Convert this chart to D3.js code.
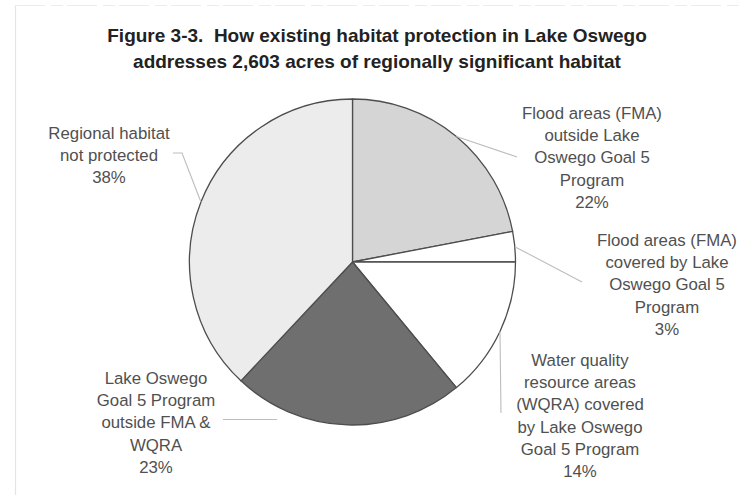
<!DOCTYPE html>
<html>
<head>
<meta charset="utf-8">
<script src="https://cdn.jsdelivr.net/npm/d3@7/dist/d3.min.js"></script>
<style>
  html, body { margin: 0; padding: 0; background: #fff; }
  svg { display: block; }
  .title { white-space: pre; }
</style>
</head>
<body>
<svg id="chart" width="743" height="498"></svg>
<script>
// Habitat categories, clockwise from 12 o'clock
const categories = [
  "Flood areas (FMA) outside Lake Oswego Goal 5 Program",
  "Flood areas (FMA) covered by Lake Oswego Goal 5 Program",
  "Water quality resource areas (WQRA) covered by Lake Oswego Goal 5 Program",
  "Lake Oswego Goal 5 Program outside FMA & WQRA",
  "Regional habitat not protected"
];
// Share of the 2,603 acres, in percent
const shares = [22, 3, 14, 23, 38];
// Label text, line by line
const labelLines = [
  ["Flood areas (FMA)", "outside Lake", "Oswego Goal 5", "Program"],
  ["Flood areas (FMA)", "covered by Lake", "Oswego Goal 5", "Program"],
  ["Water quality", "resource areas", "(WQRA) covered", "by Lake Oswego", "Goal 5 Program"],
  ["Lake Oswego", "Goal 5 Program", "outside FMA &", "WQRA"],
  ["Regional habitat", "not protected"]
];
const titleLines = [
  "Figure 3-3.\u00a0 How existing habitat protection in Lake Oswego",
  "addresses 2,603 acres of regionally significant habitat"
];

// Styling and layout
const fills = ["#d5d5d5", "#ffffff", "#ffffff", "#6f6f6f", "#ececec"];
const cx = 352.5, cy = 262, radius = 163;
const lineH = 22.2;
// label anchor (centre x, first baseline) and leader polyline end points
const labelPos = [
  { x: 592, y: 119, leader: [[517, 157]] },
  { x: 667, y: 246, leader: [[582, 282]] },
  { x: 580, y: 366, leader: "down", leaderEnd: 413 },
  { x: 156, y: 384, leader: "flat" },
  { x: 109, y: 139, leader: [[182, 153], [173, 153]] }
];

const svg = d3.select("#chart");

// faint page frame
svg.append("line").attr("x1", 15.5).attr("x2", 15.5).attr("y1", 6).attr("y2", 495)
  .attr("stroke", "#e4e4e4").attr("stroke-width", 1.2);
svg.append("line").attr("x1", 15).attr("x2", 740).attr("y1", 5.5).attr("y2", 5.5)
  .attr("stroke", "#ececec").attr("stroke-width", 1.2).attr("stroke-dasharray", "30 6 12 4");

// title
svg.append("g").selectAll("text").data(titleLines).join("text")
  .attr("class", "title")
  .attr("x", 377)
  .attr("y", (d, i) => 42 + i * 26)
  .attr("text-anchor", "middle")
  .attr("font-family", "Liberation Sans, Arial, sans-serif")
  .attr("font-weight", "bold")
  .attr("font-size", 19)
  .attr("fill", "#222")
  .text(d => d);

const pie = d3.pie().sort(null).value(d => d)(shares);
const arc = d3.arc().innerRadius(0).outerRadius(radius);

const g = svg.append("g").attr("transform", `translate(${cx},${cy})`);

// leader lines, drawn under the slices
const leaders = svg.append("g").attr("fill", "none").attr("stroke", "#bdbdbd").attr("stroke-width", 1.1);
pie.forEach((p, i) => {
  const mid = (p.startAngle + p.endAngle) / 2;
  const ex = cx + radius * Math.sin(mid);
  const ey = cy - radius * Math.cos(mid);
  const lp = labelPos[i];
  let pts;
  if (lp.leader === "down") {
    pts = [[ex, ey], [ex + 1, lp.leaderEnd]];
  } else if (lp.leader === "flat") {
    const ly = lp.y + lineH * 1.6;
    pts = [[lp.x + 67, ly], [lp.x + 121, ly]];
  } else {
    pts = [[ex, ey], ...lp.leader];
  }
  leaders.append("path").attr("d", d3.line()(pts));
});

// slices
g.selectAll("path").data(pie).join("path")
  .attr("d", arc)
  .attr("fill", (d, i) => fills[i])
  .attr("stroke", "#4d4d4d")
  .attr("stroke-width", 1.3)
  .attr("stroke-linejoin", "round");

// labels
const labels = svg.append("g")
  .attr("font-family", "Liberation Sans, Arial, sans-serif")
  .attr("font-size", 16.8)
  .attr("fill", "#505050")
  .attr("text-anchor", "middle");
pie.forEach((p, i) => {
  const lp = labelPos[i];
  const lines = labelLines[i].concat([shares[i] + "%"]);
  const t = labels.append("text").attr("x", lp.x).attr("y", lp.y);
  lines.forEach((ln, j) => {
    t.append("tspan").attr("x", lp.x).attr("dy", j === 0 ? 0 : lineH).text(ln);
  });
});
</script>
</body>
</html>
